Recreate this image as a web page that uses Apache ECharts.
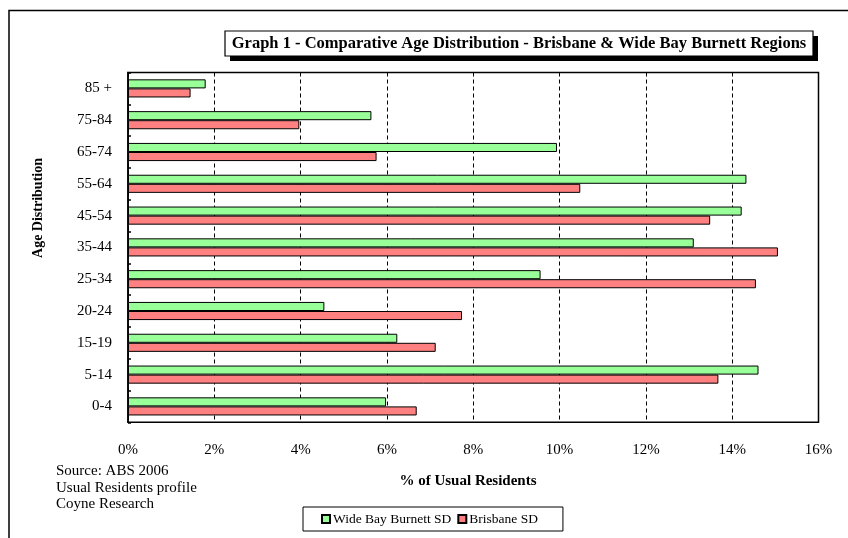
<!DOCTYPE html>
<html>
<head>
<meta charset="utf-8">
<script src="https://cdn.jsdelivr.net/npm/echarts@6/dist/echarts.min.js"></script>
<style>
html,body{margin:0;padding:0;background:#fff;}
#chart{width:848px;height:538px;}
</style>
</head>
<body>
<div id="chart"></div>
<script>
var categories = ['0-4', '5-14', '15-19', '20-24', '25-34', '35-44', '45-54', '55-64', '65-74', '75-84', '85 +'];
var wideBay = [5.98, 14.61, 6.24, 4.55, 9.56, 13.11, 14.22, 14.33, 9.94, 5.64, 1.80];
var brisbane = [6.69, 13.68, 7.13, 7.74, 14.55, 15.06, 13.49, 10.48, 5.76, 3.97, 1.45];
var xTicks = [0, 2, 4, 6, 8, 10, 12, 14, 16];
var seriesNames = ['Wide Bay Burnett SD', 'Brisbane SD'];
var titleText = 'Graph 1 - Comparative Age Distribution - Brisbane & Wide Bay Burnett Regions';
var sourceLines = ['Source: ABS 2006', 'Usual Residents profile', 'Coyne Research'];

var FONT = "'Liberation Serif', 'Times New Roman', serif";
var chart = echarts.init(document.getElementById('chart'), null, {renderer: 'canvas'});

chart.setOption({
  animation: false,
  backgroundColor: '#fff',
  textStyle: {fontFamily: FONT, color: '#000'},
  grid: {
    left: 128, right: 29.5, top: 72.5, bottom: 115.7,
    show: true, borderColor: '#000', borderWidth: 1.5, backgroundColor: 'transparent'
  },
  xAxis: {
    type: 'value',
    min: xTicks[0], max: xTicks[xTicks.length - 1], interval: xTicks[1] - xTicks[0],
    axisLine: {show: false},
    axisTick: {show: false},
    axisLabel: {formatter: '{value}%', fontSize: 15, color: '#000', fontFamily: FONT, margin: 20},
    splitLine: {show: true, lineStyle: {color: '#000', width: 1, type: [4, 3]}}
  },
  yAxis: {
    type: 'category',
    data: categories,
    axisLine: {show: true, lineStyle: {color: '#000', width: 1.5}},
    axisTick: {show: true, inside: true, length: 3, lineStyle: {color: '#000', width: 1.5}},
    axisLabel: {fontSize: 15, color: '#000', fontFamily: FONT, margin: 16},
    splitLine: {show: false}
  },
  legend: {
    data: seriesNames,
    left: 303, top: 507,
    orient: 'horizontal',
    padding: [5, 25, 5, 18],
    itemGap: 6,
    itemWidth: 8, itemHeight: 8,
    borderColor: '#000', borderWidth: 1,
    backgroundColor: '#fff',
    icon: 'rect',
    textStyle: {fontSize: 13.5, fontFamily: FONT, color: '#000', padding: [0, 0, 0, -2]}
  },
  series: [
    {
      name: seriesNames[0], type: 'bar', data: wideBay,
      barGap: '0%', barCategoryGap: '43%',
      itemStyle: {color: '#99FF99', borderColor: '#000', borderWidth: 1}
    },
    {
      name: seriesNames[1], type: 'bar', data: brisbane,
      barGap: '0%', barCategoryGap: '43%',
      itemStyle: {color: '#FF8080', borderColor: '#000', borderWidth: 1}
    }
  ],
  graphic: [
    {type: 'rect', silent: true, shape: {x: 9, y: 10.5, width: 900, height: 600},
      style: {fill: 'none', stroke: '#000', lineWidth: 1.5}, z: -1},
    {type: 'rect', silent: true, shape: {x: 230, y: 36, width: 588, height: 25},
      style: {fill: '#000'}, z: 10},
    {type: 'rect', silent: true, shape: {x: 225, y: 31, width: 588, height: 25},
      style: {fill: '#fff', stroke: '#000', lineWidth: 1.2}, z: 11},
    {type: 'text', silent: true, x: 519, y: 43.5, z: 12,
      style: {text: titleText, fill: '#000', font: 'bold 16.5px ' + FONT, align: 'center', verticalAlign: 'middle'}},
    {type: 'text', silent: true, x: 38, y: 208, rotation: Math.PI / 2, z: 12,
      style: {text: 'Age Distribution', fill: '#000', font: 'bold 14px ' + FONT, align: 'center', verticalAlign: 'middle'}},
    {type: 'text', silent: true, x: 468, y: 481, z: 12,
      style: {text: '% of Usual Residents', fill: '#000', font: 'bold 15px ' + FONT, align: 'center', verticalAlign: 'middle'}},
    {type: 'text', silent: true, x: 56, y: 463, z: 12,
      style: {text: sourceLines.join('\n'), fill: '#000', font: '15px ' + FONT, lineHeight: 16.5, align: 'left', verticalAlign: 'top'}}
  ]
});
</script>
</body>
</html>
